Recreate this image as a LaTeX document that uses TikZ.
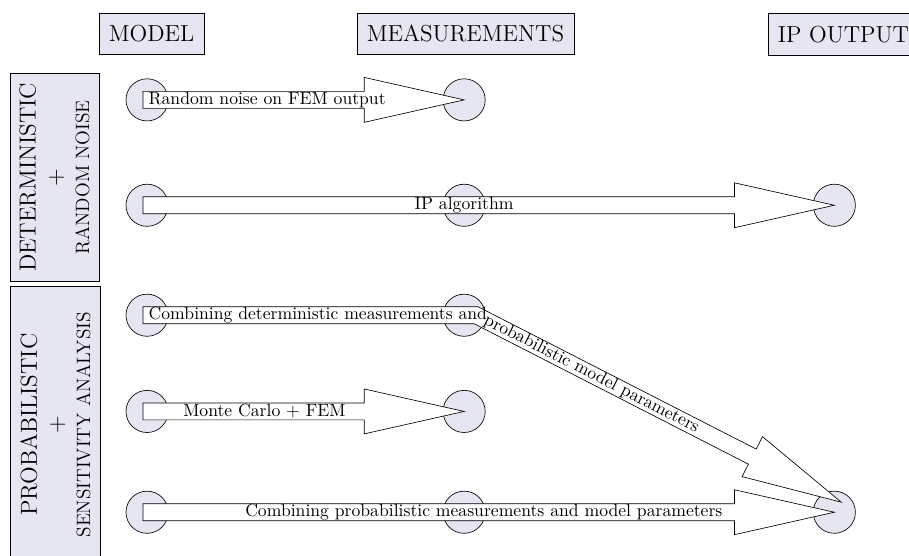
\documentclass[11pt,tikz,border=0pt]{standalone}
\usetikzlibrary{calc}
\definecolor{paleblue}{RGB}{230,230,242}
\tikzset{
	dot/.style={circle, draw, fill=paleblue, minimum size=0.92cm, inner sep=0pt},
	headbox/.style={draw, fill=paleblue, font=\Large, minimum height=0.9cm, inner xsep=6pt},
	sidebox/.style={draw, fill=paleblue, rotate=90, align=center, minimum height=1.95cm},
	fat/.style={draw, fill=white, line join=miter},
}
% straight fat arrow: #1 tail node, #2 tip node
\newcommand{\fatarrow}[2]{%
	\coordinate (tl) at ($(#1.center)+(-0.09,0)$);
	\coordinate (tp) at (#2.center);
	\coordinate (hb) at ($(tp)!2.18cm!(tl)$);
	\path[fat] ($(tl)!0.185cm!90:(tp)$) -- ($(hb)!0.185cm!90:(tp)$) -- ($(hb)!0.49cm!90:(tp)$) -- (tp)
		-- ($(hb)!0.49cm!-90:(tp)$) -- ($(hb)!0.185cm!-90:(tp)$) -- ($(tl)!0.185cm!-90:(tp)$) -- cycle;
}
\begin{document}
\begin{tikzpicture}
	\useasboundingbox (-3.21,2.18) rectangle (16.63,-9.95);

	% column heads
	\node[headbox] (hmodel) at (0.1,1.45) {MODEL};
	\node[headbox] (hmeas) at (6.95,1.45) {MEASUREMENTS};
	\node[headbox] (hout) at (15.2,1.43) {IP OUTPUT};

	% row groups
	\node[sidebox, minimum width=4.56cm] (det) at (-2.02,-1.69)
		{{\Large DETERMINISTIC}\\[3pt]{\Large $+$}\\[3pt]{\large RANDOM NOISE}};
	\node[sidebox, minimum width=6.02cm] (prob) at (-2.0,-7.09)
		{{\Large PROBABILISTIC}\\[3pt]{\Large $+$}\\[3pt]{\large SENSITIVITY ANALYSIS}};

	% circles
	\node[dot] (m1) at (0,0) {};
	\node[dot] (s1) at (6.92,0) {};
	\node[dot] (m2) at (0,-2.3) {};
	\node[dot] (s2) at (6.92,-2.3) {};
	\node[dot] (o2) at (15,-2.3) {};
	\node[dot] (m3) at (0,-4.7) {};
	\node[dot] (s3) at (6.92,-4.7) {};
	\node[dot] (m4) at (0,-6.8) {};
	\node[dot] (s4) at (6.92,-6.8) {};
	\node[dot] (m5) at (0,-9) {};
	\node[dot] (s5) at (6.92,-9) {};
	\node[dot] (o5) at (15,-9) {};

	% fat arrows
	\fatarrow{m1}{s1}
	\fatarrow{m2}{o2}
	\fatarrow{m4}{s4}
	\fatarrow{m5}{o5}

	% the bent one
	\coordinate (bend) at ($(s3)+(0.26,0)$);
	\coordinate (tip3) at ($(o5)+(0.15,0.22)$);
	\coordinate (tl) at ($(m3)+(-0.09,0)$);
	\coordinate (hb) at ($(tip3)!2.18cm!(bend)$);
	\path[fat] ($(tl)+(0,0.185)$) -- ($(bend)+(0.044,0.185)$) -- ($(hb)!0.185cm!90:(tip3)$)
		-- ($(hb)!0.49cm!90:(tip3)$) -- (tip3) -- ($(hb)!0.49cm!-90:(tip3)$)
		-- ($(hb)!0.185cm!-90:(tip3)$) -- ($(bend)+(-0.044,-0.185)$) -- ($(tl)+(0,-0.185)$) -- cycle;

	% arrow texts
	\node[anchor=west] (t1) at ($(m1)+(-0.1,0)$) {Random noise on FEM output};
	\node (t2) at (s2) {IP algorithm};
	\node[anchor=west] (t3) at ($(m3)+(-0.1,0)$) {Combining deterministic measurements and};
	\path (bend) -- (tip3) node[pos=0.01, sloped, anchor=west] (t3b) {probabilistic model parameters};
	\node (t4) at ($(m4)!0.37!(s4)$) {Monte Carlo + FEM};
	\node (t5) at ($(m5)!0.49!(o5)$) {Combining probabilistic measurements and model parameters};
\end{tikzpicture}
\end{document}
